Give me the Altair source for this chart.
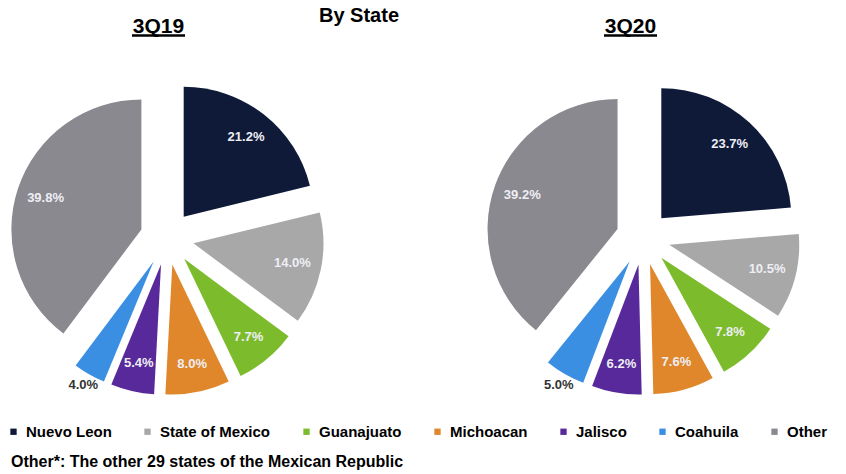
import altair as alt
import pandas as pd

states = ["Nuevo Leon", "State of Mexico", "Guanajuato", "Michoacan", "Jalisco", "Coahuila", "Other"]
share_3q19 = [21.2, 14.0, 7.7, 8.0, 5.4, 4.0, 39.8]
share_3q20 = [23.7, 10.5, 7.8, 7.6, 6.2, 5.0, 39.2]
periods = ["3Q19", "3Q20"]
colors = ["#0e1a38", "#a8a8a8", "#7cbc2c", "#df872a", "#58299a", "#3b8fe3", "#89898f"]
main_title = "By State"
footnote = "Other*: The other 29 states of the Mexican Republic"

rows = []
for p, vals in zip(periods, [share_3q19, share_3q20]):
    for i, (s, v) in enumerate(zip(states, vals)):
        rows.append({"period": p, "state": s, "order": i, "value": v})
df = pd.DataFrame(rows)

base = (
    alt.Chart(df)
    .transform_window(cum="sum(value)", sort=[{"field": "order"}], groupby=["period"], frame=[None, 0])
    .transform_joinaggregate(total="sum(value)", groupby=["period"])
    .transform_calculate(
        f0="(datum.cum - datum.value) / datum.total",
        f1="datum.cum / datum.total",
        mid="(datum.cum - datum.value / 2) / datum.total * 2 * PI",
        cx0="datum.period == '3Q19' ? 167 : 643",
    )
    .transform_calculate(
        cx="datum.cx0 + 27 * sin(datum.mid)",
        cy="238 - 27 * cos(datum.mid)",
        lr="datum.value <= 5 ? 169 : 128",
        label="format(datum.value, '.1f') + '%'",
    )
    .transform_calculate(
        lx="datum.cx0 + datum.lr * sin(datum.mid)",
        ly="238 - datum.lr * cos(datum.mid)",
    )
)

arcs = base.mark_arc(outerRadius=130).encode(
    x=alt.X("cx:Q", scale=None, axis=None, stack=False),
    y=alt.Y("cy:Q", scale=None, axis=None, stack=False),
    theta=alt.Theta("f0:Q", scale=alt.Scale(domain=[0, 1]), stack=False),
    theta2="f1:Q",
    color=alt.Color(
        "state:N",
        scale=alt.Scale(domain=states, range=colors),
        legend=alt.Legend(
            title=None,
            orient="none",
            legendX=6,
            legendY=424,
            direction="horizontal",
            symbolType="square",
            symbolSize=40,
            symbolStrokeWidth=0,
            labelFont="Arial",
            labelFontSize=15,
            labelFontWeight="bold",
            labelColor="#000000",
            labelOffset=5,
            columnPadding=28,
        ),
    ),
)

labels = base.mark_text(font="Arial", fontSize=13, fontWeight="bold").encode(
    x=alt.X("lx:Q", scale=None, axis=None, stack=False),
    y=alt.Y("ly:Q", scale=None, axis=None, stack=False),
    text="label:N",
    color=alt.condition("datum.value <= 5", alt.value("#333333"), alt.value("#eeeef4")),
)

title_main = alt.Chart(pd.DataFrame({"t": [main_title]})).mark_text(
    font="Arial", fontSize=20, fontWeight="bold", baseline="alphabetic", align="center", color="#000000"
).encode(text="t:N", x=alt.value(359), y=alt.value(22))

t19 = alt.Chart(pd.DataFrame({"t": [periods[0]]})).mark_text(
    font="Arial", fontSize=21, fontWeight="bold", baseline="alphabetic", align="center", color="#000000"
).encode(text="t:N", x=alt.value(158.5), y=alt.value(33))

t20 = alt.Chart(pd.DataFrame({"t": [periods[1]]})).mark_text(
    font="Arial", fontSize=21, fontWeight="bold", baseline="alphabetic", align="center", color="#000000"
).encode(text="t:N", x=alt.value(630.5), y=alt.value(33))

u19 = alt.Chart(pd.DataFrame({"t": [periods[0]]})).mark_rule(color="#000000", strokeWidth=2.5).encode(
    x=alt.value(132), x2=alt.value(185), y=alt.value(35.5)
)
u20 = alt.Chart(pd.DataFrame({"t": [periods[1]]})).mark_rule(color="#000000", strokeWidth=2.5).encode(
    x=alt.value(604), x2=alt.value(657), y=alt.value(35.5)
)

note = alt.Chart(pd.DataFrame({"t": [footnote]})).mark_text(
    font="Arial", fontSize=16, fontWeight="bold", baseline="alphabetic", align="left", color="#000000"
).encode(text="t:N", x=alt.value(11), y=alt.value(467))

chart = (
    alt.layer(arcs, labels, title_main, t19, t20, u19, u20, note)
    .resolve_scale(color="independent")
    .properties(width=846, height=474, autosize="none", padding=0, background="#ffffff")
    .configure_view(stroke=None)
)

chart.save("out.html", embed_options={"renderer": "svg", "actions": False})
